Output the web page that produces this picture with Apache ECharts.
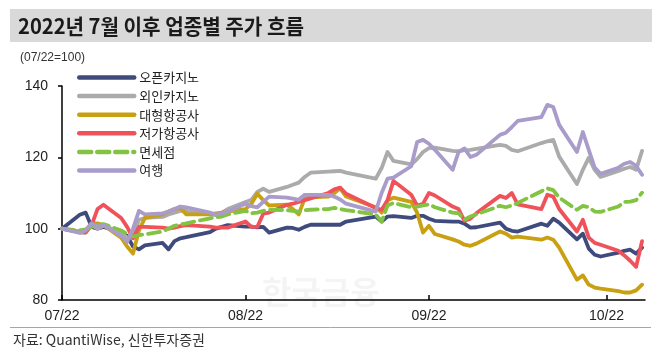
<!DOCTYPE html>
<html>
<head>
<meta charset="utf-8">
<script src="https://cdn.jsdelivr.net/npm/echarts@6/dist/echarts.min.js"></script>
<style>
html,body{margin:0;padding:0;background:#fff;}
#chart{width:668px;height:361px;}
</style>
</head>
<body>
<div id="chart"></div>
<script>
// ---- data ----
const titleText = '2022년 7월 이후 업종별 주가 흐름';
const unitText = '(07/22=100)';
const sourceText = '자료: QuantiWise, 신한투자증권';
const watermarkText = '한국금융';

// trading days (2022)
const dates = [
  '07-22','07-25','07-26','07-27','07-28','07-29',
  '08-01','08-02','08-03','08-04','08-05',
  '08-08','08-09','08-10','08-11','08-12',
  '08-16','08-17','08-18','08-19',
  '08-22','08-23','08-24','08-25','08-26',
  '08-29','08-30','08-31','09-01','09-02',
  '09-05','09-06','09-07','09-08',
  '09-13','09-14','09-15','09-16',
  '09-19','09-20','09-21','09-22','09-23',
  '09-26','09-27','09-28','09-29','09-30',
  '10-04','10-05','10-06','10-07',
  '10-11','10-12','10-13','10-14',
  '10-17','10-18','10-19','10-20','10-21',
  '10-24','10-25','10-26','10-27','10-28'
];

const tickDates = ['07-22','08-22','09-22','10-22'];
const tickLabels = ['07/22','08/22','09/22','10/22'];
const axisEndDate = '10-28';

const seriesNames = ['오픈카지노','외인카지노','대형항공사','저가항공사','면세점','여행'];

const openCasino = [
  100,103.9,104.5,100.5,100,100.5,
  99,98,95,94.2,95.3,
  96,94.2,96.5,97.3,97.6,
  99,100,100.5,101,
  100.6,100.6,100.4,100.5,98.9,
  100.3,100.2,99.7,100.5,101.1,
  101.1,101.1,101.1,102,
  103.4,102,103.4,103.5,
  103,103.6,103.6,102.8,102.2,
  102,102,101.4,100.3,100.4,
  101.7,100,99.4,99.2,
  101.4,100.8,102.8,101.7,
  97,98.6,94.4,92.7,92.2,
  93.3,93.8,94.1,93,94.7
];
const foreignCasino = [
  100,99,98.8,101,100,100.8,
  99,97.5,97.5,102.5,103,
  103.3,104,104.5,105,105,
  104,103.8,104.5,105.5,
  107.5,108.1,110.3,111.2,110.3,
  111.7,112.3,112.9,114.5,115.7,
  116,116.1,116.2,115.7,
  114,117,121.5,119,
  118,119.5,121.5,122.6,122.7,
  121.8,121.7,122,122.1,122.4,
  123.5,123.2,122.1,121.7,
  124,124.5,124.9,120.2,
  112.5,116.5,119.9,116.5,114.5,
  116.2,116.8,117.3,116.5,121.8
];
const majorAir = [
  100,99,99.5,101.5,101.5,101,
  97.5,95,93,99.5,103,
  104,104.8,105.5,105.8,104,
  104,104.3,104.5,104.8,
  105.5,107,109.8,108,106.5,
  106.7,105.5,104,108.5,108.8,
  109,110,111.3,109,
  106,104.5,108,108.7,
  107.5,104.5,98.9,100.8,98.5,
  97,96.4,95.5,95.2,95.8,
  99.2,98.6,97.5,97.8,
  96.9,97.5,96.9,94.7,
  85.7,86.9,84.3,83.5,83.2,
  82.5,82.1,82.1,82.7,84.3
];
const lowCostAir = [
  100,99,99,101,105.5,106.7,
  103,100.5,97.3,100.5,100.5,
  100.3,100,100.3,100.7,101,
  100.6,100.3,100.3,100.3,
  102,100.5,100.5,104.2,104.5,
  106.7,107,107.5,108,108.5,
  110,111,111.5,109.8,
  105.8,105.3,108,113.4,
  109.5,106.5,107,110,109.3,
  106.2,105.5,102.2,102.8,104.3,
  109.2,108.6,110,106.8,
  105.5,109.5,109,105.5,
  99.2,102.5,97.5,96,95.5,
  93.8,92.5,91,89.3,96.5
];
const dutyFree = [
  100,99.5,99.8,100.5,101,101.3,
  99.5,98.5,97.8,98.2,98.4,
  99.2,100,100.8,101.2,101.5,
  102.9,103.2,103.4,104,
  105,104.3,104.5,105,105.3,
  105.2,105,104.8,105.2,105.3,
  105.5,105.8,105.5,105.2,
  104,102,106.5,107.2,
  106,106.2,106.5,106.8,106,
  104.5,104.3,102.5,103.4,104,
  106.4,106,106.5,107.2,
  110.5,111.3,110.8,108.7,
  105.3,106.4,106,104.8,104.7,
  106.2,107.5,107.6,108,110.1
];
const travel = [
  100,98.8,99.5,101.5,100.5,101,
  98,96.2,100,105,104,
  104.3,104.8,105.5,106.2,106,
  104.5,103.9,104.3,104.8,
  107,106.3,106,107.5,109,
  108.7,108.4,108.1,109.5,109.5,
  109.5,109,108.2,107,
  104.8,110,114,114.3,
  117.5,124.3,124.9,123.8,122.1,
  116.5,121.5,122.5,120.1,120.7,
  126.3,126.9,128.5,130.2,
  131.3,134.7,134.1,129.1,
  121.5,127.1,122.1,117.1,115.4,
  117.1,118.2,118.7,117.6,115.1
];

const yMin = 80, yMax = 140, yStep = 20;

// ---- helpers ----
function dayOffset(md) {
  const [m, d] = md.split('-').map(Number);
  return Math.round((Date.UTC(2022, m - 1, d) - Date.UTC(2022, 6, 22)) / 86400000);
}
const xs = dates.map(dayOffset);
const tickDays = tickDates.map(dayOffset);
const xMax = dayOffset(axisEndDate) + 0.5;
function pairs(vals) { return vals.map((v, i) => [xs[i], v]); }

const colors = ['#3F4A7D', '#ABABAB', '#C9A012', '#F0525A', '#82C341', '#A99CCA'];
const valuesList = [openCasino, foreignCasino, majorAir, lowCostAir, dutyFree, travel];

const cjk = '"Noto Sans CJK KR", "Noto Sans", sans-serif';

// title scale to fit reference width
let titleScale = 1;
try {
  const c = document.createElement('canvas').getContext('2d');
  c.font = 'bold 21px "Noto Sans CJK KR"';
  const w = c.measureText(titleText).width;
  if (w > 0) titleScale = 286 / w;
} catch (e) {}

const chart = echarts.init(document.getElementById('chart'), null, {renderer: 'canvas'});

const series = seriesNames.map((name, i) => ({
  name: name,
  type: 'line',
  data: pairs(valuesList[i]),
  symbol: 'none',
  showSymbol: false,
  smooth: false,
  animation: false,
  lineStyle: {
    color: colors[i],
    width: 3.8,
    type: i === 4 ? [12, 6] : 'solid',
    cap: 'round',
    join: 'round'
  },
  itemStyle: {color: colors[i]},
  z: 2 + i
}));

chart.setOption({
  animation: false,
  backgroundColor: '#fff',
  grid: {left: 62, right: 23, top: 86, bottom: 61, containLabel: false},
  legend: {
    orient: 'vertical',
    left: 77,
    top: 71,
    padding: 0,
    itemWidth: 55,
    itemHeight: 12,
    itemGap: 5.6,
    data: seriesNames,
    itemStyle: {opacity: 0},
    lineStyle: {width: 4.5, cap: 'round'},
    textStyle: {fontFamily: cjk, fontSize: 13, color: '#222'}
  },
  xAxis: {
    type: 'value',
    min: 0,
    max: xMax,
    axisLine: {show: true, lineStyle: {color: '#000', width: 1.5}},
    axisTick: {show: true, inside: true, length: 5, customValues: tickDays, lineStyle: {color: '#000', width: 1.5}},
    axisLabel: {
      customValues: tickDays,
      margin: 9,
      fontSize: 14,
      color: '#222',
      fontFamily: '"Liberation Sans", Arial, sans-serif',
      formatter: function (v) { const k = tickDays.indexOf(Math.round(v)); return k >= 0 ? tickLabels[k] : ''; }
    },
    splitLine: {show: false}
  },
  yAxis: {
    type: 'value',
    min: yMin,
    max: yMax,
    interval: yStep,
    axisLine: {show: true, lineStyle: {color: '#000', width: 1.5}},
    axisTick: {show: true, inside: false, length: 4, lineStyle: {color: '#000', width: 1.5}},
    axisLabel: {margin: 14, fontSize: 14, color: '#222', fontFamily: '"Liberation Sans", Arial, sans-serif'},
    splitLine: {show: false}
  },
  graphic: [
    {type: 'rect', left: 10, top: 9, shape: {width: 642, height: 33}, style: {fill: '#D9D9D9'}, silent: true, z: 0},
    {type: 'text', x: 18, y: 26, scaleX: titleScale, originX: 0,
     style: {text: titleText, font: 'bold 21px "Noto Sans CJK KR"', fill: '#1A1A1A', textVerticalAlign: 'middle', verticalAlign: 'middle'}, z: 1},
    {type: 'text', x: 20, y: 58,
     style: {text: unitText, font: '12px "Liberation Sans", Arial, sans-serif', fill: '#333', verticalAlign: 'middle'}},
    {type: 'text', x: 262, y: 292,
     style: {text: watermarkText, font: 'bold 32px "Noto Sans CJK KR"', fill: 'rgba(0,0,0,0.045)', verticalAlign: 'middle'}, z: 0},
    {type: 'line', shape: {x1: 10, y1: 327.5, x2: 651, y2: 327.5}, style: {stroke: '#A6A6A6', lineWidth: 1}},
    {type: 'text', x: 13, y: 340,
     style: {text: sourceText, font: '14px "Noto Sans CJK KR"', fill: '#333', verticalAlign: 'middle'}}
  ],
  series: series
});
</script>
</body>
</html>
